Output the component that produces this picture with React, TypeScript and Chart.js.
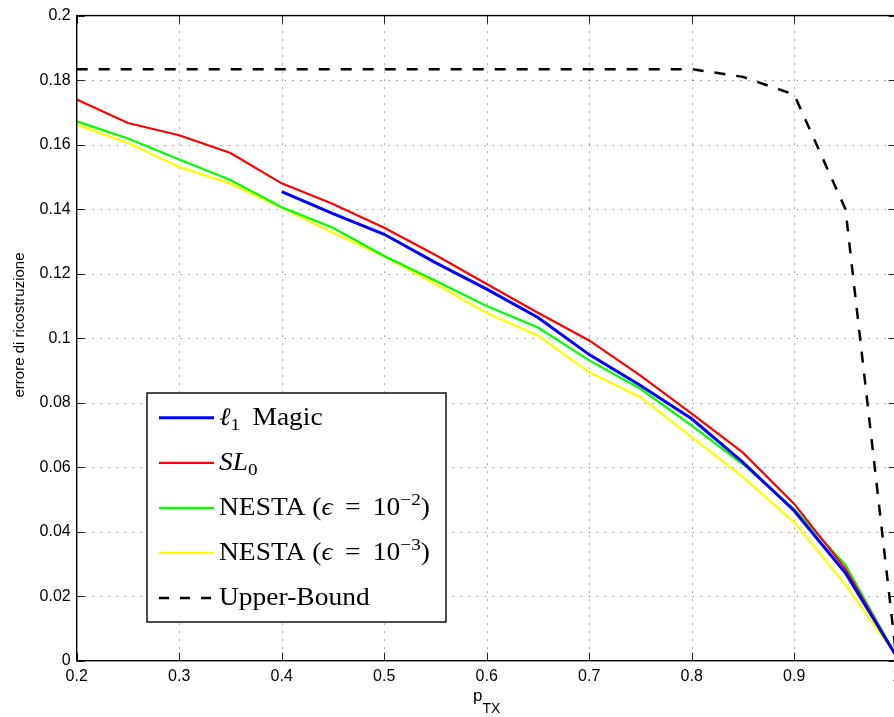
import React, { useEffect, useRef } from "react";
import { Chart, registerables } from "chart.js";

Chart.register(...registerables);

// ---- data ----
const pTX = [0.2, 0.25, 0.3, 0.35, 0.4, 0.45, 0.5, 0.55, 0.6, 0.65, 0.7, 0.75, 0.8, 0.85, 0.9, 0.95, 1.0];
const l1Magic = [null, null, null, null, 0.1454, 0.1386, 0.1322, 0.1234, 0.1152, 0.1064, 0.0949, 0.0853, 0.075, 0.0615, 0.0465, 0.0272, 0.0012];
const sl0 = [0.174, 0.1667, 0.1629, 0.1574, 0.148, 0.1416, 0.1342, 0.1258, 0.1168, 0.1079, 0.0993, 0.0884, 0.0766, 0.0645, 0.0486, 0.0285, 0.0012];
const nesta2 = [0.1672, 0.1619, 0.1554, 0.149, 0.1406, 0.1342, 0.1255, 0.1178, 0.11, 0.1033, 0.0931, 0.0843, 0.0729, 0.0609, 0.047, 0.0297, 0.0012];
const nesta3 = [0.1662, 0.1605, 0.1531, 0.1479, 0.1404, 0.1327, 0.1253, 0.1168, 0.1078, 0.1008, 0.0894, 0.0817, 0.0693, 0.0569, 0.0429, 0.0235, 0.0012];
const upperBound = [0.1834, 0.1834, 0.1834, 0.1834, 0.1834, 0.1834, 0.1834, 0.1834, 0.1834, 0.1834, 0.1834, 0.1834, 0.1834, 0.181, 0.1755, 0.14, 0.0];

const xTicks = [0.2, 0.3, 0.4, 0.5, 0.6, 0.7, 0.8, 0.9, 1.0];
const yTicks = [0, 0.02, 0.04, 0.06, 0.08, 0.1, 0.12, 0.14, 0.16, 0.18, 0.2];

const yTitle = "errore di ricostruzione";
const xTitleMain = "p";
const xTitleSub = "TX";

type Run = { t: string; i?: boolean; pos?: "sub" | "sup" };
const legendItems: { color: string; dash: number[]; width: number; runs: Run[] }[] = [
  { color: "#0000ff", dash: [], width: 3, runs: [{ t: "ℓ", i: true }, { t: "1", pos: "sub" }, { t: " \u2009Magic" }] },
  { color: "#ff0000", dash: [], width: 2.2, runs: [{ t: "S", i: true }, { t: "L", i: true }, { t: "0", pos: "sub" }] },
  { color: "#00ff00", dash: [], width: 2.2, runs: [{ t: "NESTA (" }, { t: "ϵ", i: true }, { t: " \u2009=\u2009 10" }, { t: "−2", pos: "sup" }, { t: ")" }] },
  { color: "#ffff00", dash: [], width: 2.2, runs: [{ t: "NESTA (" }, { t: "ϵ", i: true }, { t: " \u2009=\u2009 10" }, { t: "−3", pos: "sup" }, { t: ")" }] },
  { color: "#000000", dash: [10, 11], width: 2.5, runs: [{ t: "Upper-Bound" }] },
];

const fmt = (v: number) => String(Math.round(v * 100) / 100);

function drawRich(ctx: CanvasRenderingContext2D, runs: Run[], x: number, y: number, size: number, sx: number) {
  ctx.save();
  ctx.translate(x, y);
  ctx.scale(sx, 1);
  ctx.textBaseline = "alphabetic";
  ctx.textAlign = "left";
  ctx.fillStyle = "#000";
  let cx = 0;
  for (const r of runs) {
    const fs = r.pos ? size * 0.7 : size;
    ctx.font = `${r.i ? "italic " : ""}${fs}px "Liberation Serif", serif`;
    const dy = r.pos === "sub" ? size * 0.2 : r.pos === "sup" ? -size * 0.4 : 0;
    ctx.fillText(r.t, cx, dy);
    cx += ctx.measureText(r.t).width;
  }
  ctx.restore();
}

const framePlugin = {
  id: "matlabFrame",
  beforeDatasetsDraw(chart: any) {
    const { ctx, chartArea: a, scales } = chart;
    const x = scales.x, y = scales.y;
    ctx.save();
    ctx.strokeStyle = "rgba(0,0,0,0.6)";
    ctx.lineWidth = 1;
    ctx.setLineDash([1, 7]);
    for (const v of xTicks.slice(1, -1)) {
      const px = Math.round(x.getPixelForValue(v)) + 0.5;
      ctx.beginPath();
      ctx.moveTo(px, a.top);
      ctx.lineTo(px, a.bottom);
      ctx.stroke();
    }
    for (const v of yTicks.slice(1, -1)) {
      const py = Math.round(y.getPixelForValue(v)) + 0.5;
      ctx.beginPath();
      ctx.moveTo(a.left, py);
      ctx.lineTo(a.right, py);
      ctx.stroke();
    }
    ctx.restore();
  },
  afterDatasetsDraw(chart: any) {
    const { ctx, chartArea: a, scales } = chart;
    const x = scales.x, y = scales.y;
    ctx.save();
    // ticks inward
    ctx.strokeStyle = "#222";
    ctx.lineWidth = 1;
    ctx.setLineDash([]);
    const tl = 8;
    for (const v of xTicks) {
      const px = Math.round(x.getPixelForValue(v)) + 0.5;
      ctx.beginPath();
      ctx.moveTo(px, a.bottom);
      ctx.lineTo(px, a.bottom - tl);
      ctx.moveTo(px, a.top);
      ctx.lineTo(px, a.top + tl);
      ctx.stroke();
    }
    for (const v of yTicks) {
      const py = Math.round(y.getPixelForValue(v)) + 0.5;
      ctx.beginPath();
      ctx.moveTo(a.left, py);
      ctx.lineTo(a.left + tl, py);
      ctx.moveTo(a.right, py);
      ctx.lineTo(a.right - tl, py);
      ctx.stroke();
    }
    // box
    ctx.strokeStyle = "#000";
    ctx.lineWidth = 1.4;
    ctx.strokeRect(a.left, a.top, a.right - a.left, a.bottom - a.top);

    // legend
    const bx = 147, by = 393, bw = 299, bh = 229;
    ctx.fillStyle = "#fff";
    ctx.fillRect(bx, by, bw, bh);
    ctx.strokeStyle = "#000";
    ctx.lineWidth = 1.4;
    ctx.strokeRect(bx, by, bw, bh);
    legendItems.forEach((it, i) => {
      const cy = 417.7 + i * 45.1;
      ctx.save();
      ctx.strokeStyle = it.color;
      ctx.lineWidth = it.width;
      ctx.setLineDash(it.dash);
      ctx.beginPath();
      ctx.moveTo(159, cy);
      ctx.lineTo(214, cy);
      ctx.stroke();
      ctx.restore();
      drawRich(ctx, it.runs, 219, cy + 7, 25, 1.1);
    });

    // axis titles
    ctx.fillStyle = "#000";
    ctx.save();
    ctx.translate(24, 325);
    ctx.rotate(-Math.PI / 2);
    ctx.font = '15px "Liberation Sans", Arial, sans-serif';
    ctx.textAlign = "center";
    ctx.textBaseline = "alphabetic";
    ctx.fillText(yTitle, 0, 0);
    ctx.restore();

    ctx.save();
    ctx.textBaseline = "alphabetic";
    ctx.textAlign = "left";
    ctx.font = '17px "Liberation Sans", Arial, sans-serif';
    const wMain = ctx.measureText(xTitleMain).width;
    ctx.font = '14px "Liberation Sans", Arial, sans-serif';
    const wSub = ctx.measureText(xTitleSub).width;
    const cx = (a.left + a.right) / 2;
    const sx = cx - (wMain + wSub) / 2;
    ctx.font = '17px "Liberation Sans", Arial, sans-serif';
    ctx.fillText(xTitleMain, sx, 701);
    ctx.font = '14px "Liberation Sans", Arial, sans-serif';
    ctx.fillText(xTitleSub, sx + wMain, 713);
    ctx.restore();

    ctx.restore();
  },
};

export default function App() {
  const ref = useRef<HTMLCanvasElement | null>(null);
  useEffect(() => {
    if (!ref.current) return;
    const mk = (arr: (number | null)[]) => pTX.map((xv, i) => ({ x: xv, y: arr[i] }));
    const chart = new Chart(ref.current, {
      type: "line",
      data: {
        datasets: [
          { label: "l1 Magic", data: mk(l1Magic) as any, borderColor: "#0000ff", borderWidth: 3, pointRadius: 0, spanGaps: false },
          { label: "SL0", data: mk(sl0) as any, borderColor: "#ff0000", borderWidth: 2.2, pointRadius: 0 },
          { label: "NESTA 1e-2", data: mk(nesta2) as any, borderColor: "#00ff00", borderWidth: 2.2, pointRadius: 0 },
          { label: "NESTA 1e-3", data: mk(nesta3) as any, borderColor: "#ffff00", borderWidth: 2.2, pointRadius: 0 },
          { label: "Upper-Bound", data: mk(upperBound) as any, borderColor: "#000000", borderWidth: 2.5, borderDash: [11, 11], pointRadius: 0 },
        ],
      },
      options: {
        responsive: false,
        animation: false,
        events: [],
        layout: { padding: { left: 0, top: 14.3, right: 912 - 896.7, bottom: 0 } },
        plugins: { legend: { display: false }, tooltip: { enabled: false } },
        scales: {
          x: {
            type: "linear",
            min: 0.2,
            max: 1.0,
            afterFit: (s: any) => { s.height = 717 - 660.7; },
            afterBuildTicks: (s: any) => { s.ticks = xTicks.map((v) => ({ value: v })); },
            grid: { display: false, drawTicks: false },
            border: { display: false },
            ticks: {
              autoSkip: false,
              maxRotation: 0,
              padding: 6,
              color: "#000",
              font: { family: '"Liberation Sans", Arial, sans-serif', size: 16 },
              callback: (v: any) => fmt(Number(v)),
            },
          },
          y: {
            type: "linear",
            min: 0,
            max: 0.2,
            afterFit: (s: any) => { s.width = 76.7; },
            afterBuildTicks: (s: any) => { s.ticks = yTicks.map((v) => ({ value: v })); },
            grid: { display: false, drawTicks: false },
            border: { display: false },
            ticks: {
              autoSkip: false,
              padding: 6,
              color: "#000",
              font: { family: '"Liberation Sans", Arial, sans-serif', size: 16 },
              callback: (v: any) => fmt(Number(v)),
            },
          },
        },
      },
      plugins: [framePlugin],
    } as any);
    return () => chart.destroy();
  }, []);
  return (
    <div style={{ position: "absolute", left: 0, top: 0, width: 894, height: 717, overflow: "hidden", background: "#fff" }}>
      <canvas ref={ref} width={912} height={717} style={{ display: "block", width: 912, height: 717 }} />
    </div>
  );
}
